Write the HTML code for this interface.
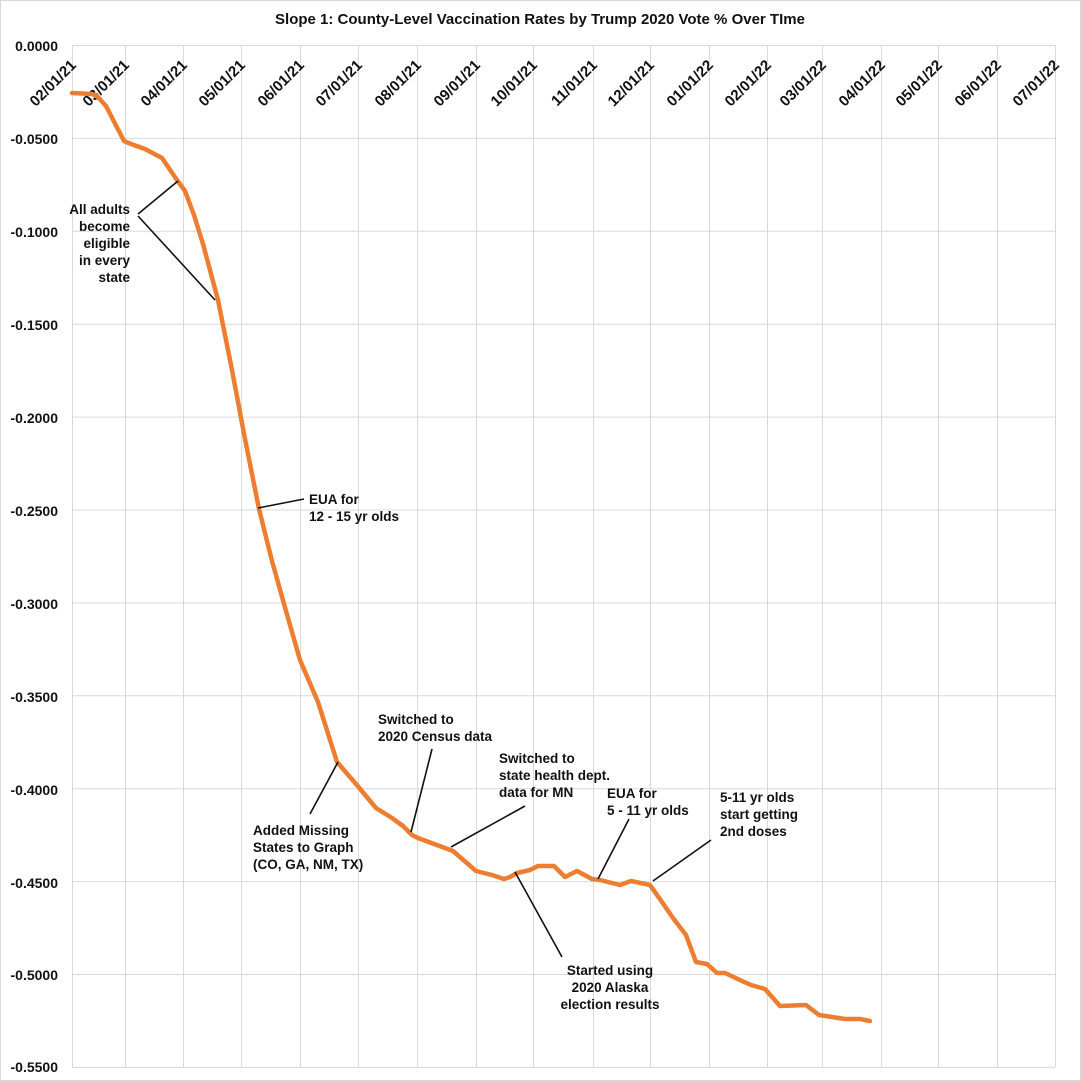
<!DOCTYPE html>
<html><head><meta charset="utf-8"><style>
html,body{margin:0;padding:0;background:#fff;}
svg{display:block;}
text{font-family:"Liberation Sans",sans-serif;font-weight:bold;fill:#111;}
</style></head><body>
<svg width="1081" height="1081" viewBox="0 0 1081 1081" xmlns="http://www.w3.org/2000/svg">
<rect x="0" y="0" width="1081" height="1081" fill="#fff"/>
<rect x="0.5" y="0.5" width="1080" height="1080" fill="none" stroke="#d9d9d9"/>
<text x="540" y="24" text-anchor="middle" font-size="15">Slope 1: County-Level Vaccination Rates by Trump 2020 Vote % Over TIme</text>
<g stroke="#d9d9d9" stroke-width="1">
<line x1="72" y1="45.5" x2="1055" y2="45.5"/>
<line x1="72" y1="138.4" x2="1055" y2="138.4"/>
<line x1="72" y1="231.3" x2="1055" y2="231.3"/>
<line x1="72" y1="324.2" x2="1055" y2="324.2"/>
<line x1="72" y1="417.1" x2="1055" y2="417.1"/>
<line x1="72" y1="510" x2="1055" y2="510"/>
<line x1="72" y1="602.9" x2="1055" y2="602.9"/>
<line x1="72" y1="695.8" x2="1055" y2="695.8"/>
<line x1="72" y1="788.7" x2="1055" y2="788.7"/>
<line x1="72" y1="881.6" x2="1055" y2="881.6"/>
<line x1="72" y1="974.5" x2="1055" y2="974.5"/>
<line x1="72" y1="1067.4" x2="1055" y2="1067.4"/>
<line x1="72.5" y1="45" x2="72.5" y2="1067"/>
<line x1="125.5" y1="45" x2="125.5" y2="1067"/>
<line x1="183.5" y1="45" x2="183.5" y2="1067"/>
<line x1="241.5" y1="45" x2="241.5" y2="1067"/>
<line x1="300.5" y1="45" x2="300.5" y2="1067"/>
<line x1="358.5" y1="45" x2="358.5" y2="1067"/>
<line x1="417.5" y1="45" x2="417.5" y2="1067"/>
<line x1="476.5" y1="45" x2="476.5" y2="1067"/>
<line x1="533.5" y1="45" x2="533.5" y2="1067"/>
<line x1="593.5" y1="45" x2="593.5" y2="1067"/>
<line x1="650.5" y1="45" x2="650.5" y2="1067"/>
<line x1="709.5" y1="45" x2="709.5" y2="1067"/>
<line x1="767.5" y1="45" x2="767.5" y2="1067"/>
<line x1="822.5" y1="45" x2="822.5" y2="1067"/>
<line x1="881.5" y1="45" x2="881.5" y2="1067"/>
<line x1="938.5" y1="45" x2="938.5" y2="1067"/>
<line x1="997.5" y1="45" x2="997.5" y2="1067"/>
<line x1="1055.5" y1="45" x2="1055.5" y2="1067"/>
</g>
<g font-size="14" text-anchor="end">
<text x="58" y="51">0.0000</text>
<text x="58" y="144">-0.0500</text>
<text x="58" y="237">-0.1000</text>
<text x="58" y="330">-0.1500</text>
<text x="58" y="423">-0.2000</text>
<text x="58" y="516">-0.2500</text>
<text x="58" y="609">-0.3000</text>
<text x="58" y="702">-0.3500</text>
<text x="58" y="795">-0.4000</text>
<text x="58" y="888">-0.4500</text>
<text x="58" y="980">-0.5000</text>
<text x="58" y="1072">-0.5500</text>
</g>
<g font-size="15" text-anchor="end">
<text transform="translate(77,66) rotate(-45)">02/01/21</text>
<text transform="translate(130,66) rotate(-45)">03/01/21</text>
<text transform="translate(188,66) rotate(-45)">04/01/21</text>
<text transform="translate(246,66) rotate(-45)">05/01/21</text>
<text transform="translate(305,66) rotate(-45)">06/01/21</text>
<text transform="translate(363,66) rotate(-45)">07/01/21</text>
<text transform="translate(422,66) rotate(-45)">08/01/21</text>
<text transform="translate(481,66) rotate(-45)">09/01/21</text>
<text transform="translate(538,66) rotate(-45)">10/01/21</text>
<text transform="translate(598,66) rotate(-45)">11/01/21</text>
<text transform="translate(655,66) rotate(-45)">12/01/21</text>
<text transform="translate(714,66) rotate(-45)">01/01/22</text>
<text transform="translate(772,66) rotate(-45)">02/01/22</text>
<text transform="translate(827,66) rotate(-45)">03/01/22</text>
<text transform="translate(886,66) rotate(-45)">04/01/22</text>
<text transform="translate(943,66) rotate(-45)">05/01/22</text>
<text transform="translate(1002,66) rotate(-45)">06/01/22</text>
<text transform="translate(1060,66) rotate(-45)">07/01/22</text>
</g>
<polyline fill="none" stroke="#ed7d31" stroke-width="4.5" stroke-linejoin="round" stroke-linecap="round" points="72,93 92,94 97,96 106,106 124,141 131,144 145,149 162,158 177,180 185,191 194,215 203,244 218,300 232,370 245,439 259,509 272,561 286,611 300,660 318,702 337,762 356,784 376,808 392,818 403,826 412,835 418,838 453,851 476,871 492,875 504,879 510,877 517,873 530,870 538,866 554,866 565,877 577,871 592,879 600,880 620,885 631,881 650,885 662,902 673,918 686,935 696,962 707,964 717,973 725,973 742,981 751,985 765,989 780,1006 806,1005 819,1015 845,1019 860,1019 870,1021"/>
<g stroke="#111" stroke-width="1.6" fill="none">
<line x1="138" y1="214" x2="178" y2="181"/>
<line x1="138" y1="216" x2="215" y2="300"/>
<line x1="258" y1="508" x2="304" y2="499"/>
<line x1="310" y1="814" x2="338" y2="762"/>
<line x1="411" y1="832" x2="432" y2="749"/>
<line x1="451" y1="847" x2="525" y2="806"/>
<line x1="515" y1="872" x2="562" y2="957"/>
<line x1="598" y1="879" x2="629" y2="819"/>
<line x1="653" y1="881" x2="711" y2="840"/>
</g>
<g font-size="13.5" text-anchor="end">
<text x="130" y="214">All adults</text>
<text x="130" y="231">become</text>
<text x="130" y="248">eligible</text>
<text x="130" y="265">in every</text>
<text x="130" y="282">state</text>
</g>
<g font-size="13.5">
<text x="309" y="504">EUA for</text>
<text x="309" y="521">12 - 15 yr olds</text>
<text x="253" y="835">Added Missing</text>
<text x="253" y="852">States to Graph</text>
<text x="253" y="869">(CO, GA, NM, TX)</text>
<text x="378" y="724">Switched to</text>
<text x="378" y="741">2020 Census data</text>
<text x="499" y="763">Switched to</text>
<text x="499" y="780">state health dept.</text>
<text x="499" y="797">data for MN</text>
<text x="607" y="798">EUA for</text>
<text x="607" y="815">5 - 11 yr olds</text>
<text x="720" y="802">5-11 yr olds</text>
<text x="720" y="819">start getting</text>
<text x="720" y="836">2nd doses</text>
</g>
<g font-size="13.5" text-anchor="middle">
<text x="610" y="975">Started using</text>
<text x="610" y="992">2020 Alaska</text>
<text x="610" y="1009">election results</text>
</g>
</svg>
</body></html>
